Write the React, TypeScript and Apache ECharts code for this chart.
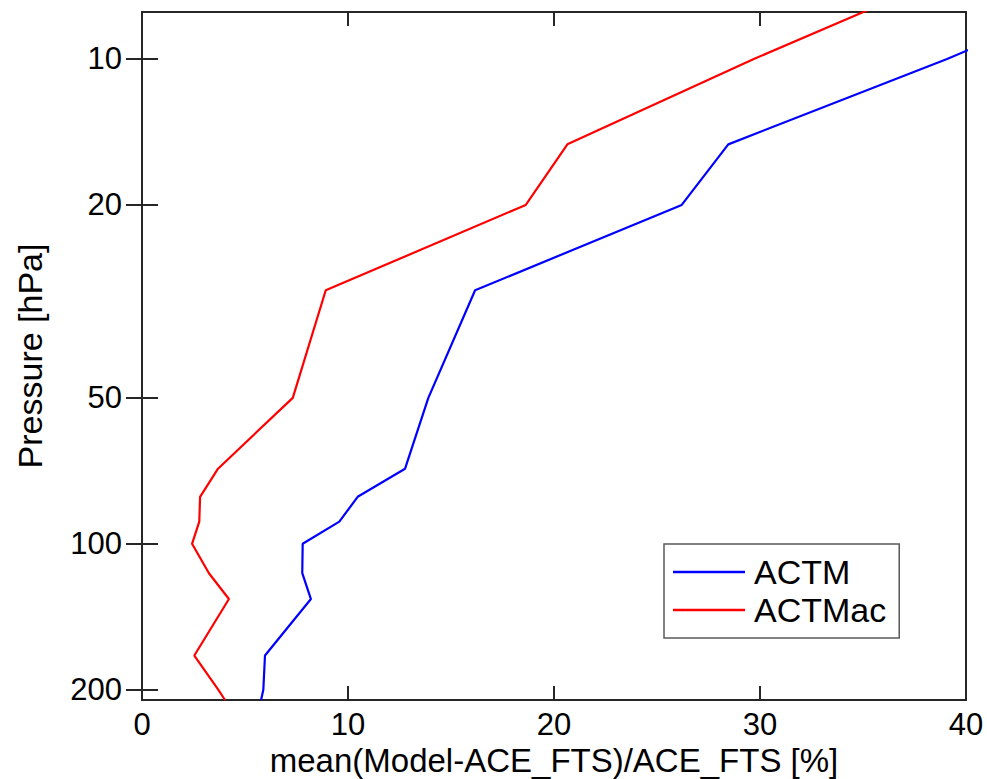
import React, { useEffect, useRef } from "react";
import * as echarts from "echarts";

// Pressure levels [hPa] (7 hPa point lies above the plotted range and is clipped)
const pressureLevels = [7, 10, 15, 20, 30, 50, 70, 80, 90, 100, 115, 130, 170, 200, 210];
// mean(Model-ACE_FTS)/ACE_FTS [%]
const actmValues = [47.7, 39.08, 28.46, 26.2, 16.17, 13.9, 12.77, 10.47, 9.58, 7.8, 7.78, 8.2, 5.97, 5.89, 5.78];
const actmacValues = [38.2, 29.7, 20.65, 18.63, 8.92, 7.32, 3.69, 2.82, 2.78, 2.43, 3.25, 4.22, 2.54, 3.7, 4.03];
const seriesNames = ["ACTM", "ACTMac"];
const pressureTicks = [10, 20, 50, 100, 200];
const pressureRange = [8, 210];
const xRange = [0, 40];
const xInterval = 10;

const FONT = '"Liberation Sans", Arial, Helvetica, sans-serif';
const AXIS_COLOR = "#262626";

const toPoints = (vals: number[]) => pressureLevels.map((p, i) => [vals[i], Math.log10(p)]);
const logTicks = pressureTicks.map((p) => Math.log10(p));

export default function App() {
  const ref = useRef<HTMLDivElement>(null);
  useEffect(() => {
    const chart = echarts.init(ref.current!, null, { renderer: "svg" });
    const yBase = {
      type: "value" as const,
      min: Math.log10(pressureRange[0]),
      max: Math.log10(pressureRange[1]),
      inverse: true,
      splitLine: { show: false },
      axisLine: { show: false },
      axisTick: {
        show: true,
        inside: true,
        length: 16,
        customValues: logTicks,
        lineStyle: { color: AXIS_COLOR, width: 2 },
      },
    };
    const xBase = {
      type: "value" as const,
      min: xRange[0],
      max: xRange[1],
      interval: xInterval,
      splitLine: { show: false },
      axisLine: { show: false },
      axisTick: { show: true, inside: true, length: 14, lineStyle: { color: AXIS_COLOR, width: 2 } },
    };
    chart.setOption({
      animation: false,
      backgroundColor: "#ffffff",
      grid: {
        left: 142,
        right: 21,
        top: 12,
        bottom: 79,
        containLabel: false,
        outerBoundsMode: "none",
        show: true,
        borderColor: AXIS_COLOR,
        borderWidth: 2,
        backgroundColor: "transparent",
      },
      legend: {
        orient: "vertical",
        left: 664,
        top: 544,
        padding: [11, 13, 11, 9],
        itemWidth: 72,
        itemHeight: 2.5,
        itemGap: 4,
        icon: "rect",
        borderColor: "#5a5a5a",
        borderWidth: 1.5,
        backgroundColor: "#ffffff",
        data: seriesNames,
        textStyle: {
          fontFamily: FONT,
          fontSize: 34,
          color: "#000",
          lineHeight: 34,
          padding: [0, 0, 0, 4],
        },
      },
      xAxis: [
        {
          ...xBase,
          position: "bottom",
          name: "mean(Model-ACE_FTS)/ACE_FTS [%]",
          nameLocation: "middle",
          nameGap: 60,
          nameMoveOverlap: false,
          nameTextStyle: {
            fontFamily: FONT,
            fontSize: 33,
            color: "#000",
            verticalAlign: "middle",
          },
          axisLabel: {
            show: true,
            margin: 24,
            verticalAlign: "middle",
            fontFamily: FONT,
            fontSize: 31,
            color: "#000",
          },
        },
        { ...xBase, position: "top", axisLabel: { show: false } },
      ],
      yAxis: [
        {
          ...yBase,
          position: "left",
          name: "Pressure [hPa]",
          nameLocation: "middle",
          nameGap: 112,
          nameMoveOverlap: false,
          nameTextStyle: { fontFamily: FONT, fontSize: 34, color: "#000", verticalAlign: "middle" },
          axisLabel: {
            show: true,
            margin: 20,
            customValues: logTicks,
            formatter: (v: number) => String(Math.round(Math.pow(10, v))),
            fontFamily: FONT,
            fontSize: 31,
            color: "#000",
          },
        },
        { ...yBase, position: "right", axisLabel: { show: false } },
      ],
      series: [
        {
          name: seriesNames[0],
          type: "line",
          data: toPoints(actmValues),
          showSymbol: false,
          symbol: "none",
          clip: true,
          color: "#0000ff",
          lineStyle: { color: "#0000ff", width: 2.2 },
          xAxisIndex: 0,
          yAxisIndex: 0,
        },
        {
          name: seriesNames[1],
          type: "line",
          data: toPoints(actmacValues),
          showSymbol: false,
          symbol: "none",
          clip: true,
          color: "#ff0000",
          lineStyle: { color: "#ff0000", width: 2.2 },
          xAxisIndex: 0,
          yAxisIndex: 0,
        },
      ],
    });
    return () => chart.dispose();
  }, []);
  return (
    <div
      ref={ref}
      style={{ position: "absolute", left: 0, top: 0, width: 987, height: 779, background: "#fff" }}
    />
  );
}
